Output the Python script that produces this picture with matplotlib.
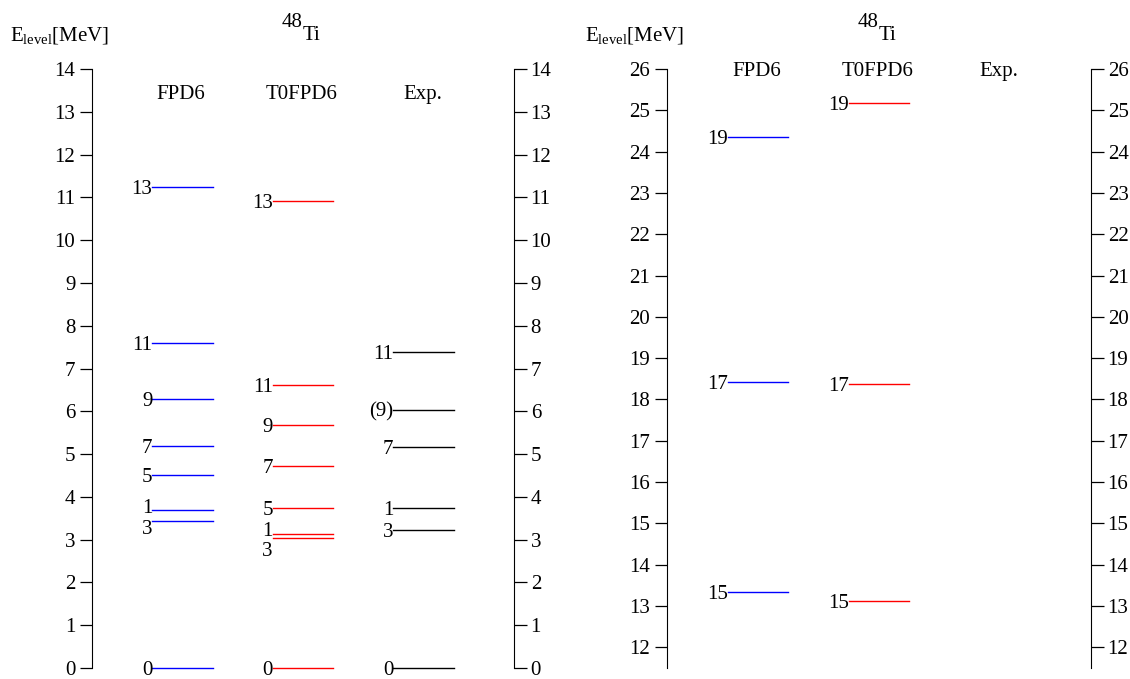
import matplotlib.pyplot as plt

plt.rcParams["font.family"] = "Liberation Serif"
plt.rcParams["mathtext.fontset"] = "custom"
plt.rcParams["mathtext.rm"] = "Liberation Serif"
plt.rcParams["mathtext.it"] = "Liberation Serif:italic"
plt.rcParams["font.size"] = 15

# Level data (energies in MeV, labels are the spin values shown)
columns = ["FPD6", "T0FPD6", "Exp."]

fpd6_low_spin = ["0", "3", "1", "5", "7", "9", "11", "13"]
fpd6_low_e = [0.0, 3.43, 3.70, 4.52, 5.20, 6.28, 7.59, 11.24]
t0_low_spin = ["0", "3", "1", "5", "7", "9", "11", "13"]
t0_low_e = [0.0, 3.03, 3.14, 3.74, 4.73, 5.69, 6.61, 10.92]
exp_low_spin = ["0", "3", "1", "7", "(9)", "11"]
exp_low_e = [0.0, 3.22, 3.74, 5.17, 6.04, 7.38]

fpd6_high_spin = ["15", "17", "19"]
fpd6_high_e = [13.34, 18.43, 24.36]
t0_high_spin = ["15", "17", "19"]
t0_high_e = [13.11, 18.37, 25.18]
exp_high_spin = []
exp_high_e = []

colors = {"FPD6": "blue", "T0FPD6": "red", "Exp.": "black"}
# vertical nudges (points) for labels that would overlap
label_shift = {("FPD6", "1"): 2.5, ("FPD6", "3"): -4.5,
               ("T0FPD6", "1"): 3.5, ("T0FPD6", "3"): -7.5}

fig = plt.figure(figsize=(11.3, 6.79), dpi=100)
ax_low = fig.add_axes([92 / 1130, 11 / 679, 422 / 1130, 599 / 679])
ax_high = fig.add_axes([667 / 1130, 11 / 679, 424 / 1130, 599 / 679])

panels = [
    (ax_low, (0, 14), range(0, 15), 0.962,
     [(fpd6_low_spin, fpd6_low_e), (t0_low_spin, t0_low_e), (exp_low_spin, exp_low_e)]),
    (ax_high, (11.5, 26), range(12, 27), 1.0,
     [(fpd6_high_spin, fpd6_high_e), (t0_high_spin, t0_high_e), (exp_high_spin, exp_high_e)]),
]

for ax, ylim, ticks, head_y, data in panels:
    ax.set_xlim(0, 7)
    ax.set_ylim(*ylim)
    ax.set_yticks(list(ticks))
    ax.set_xticks([])
    ax.spines["top"].set_visible(False)
    ax.spines["bottom"].set_visible(False)
    ax.tick_params(axis="y", direction="out", left=True, right=True,
                   labelleft=True, labelright=True, length=9, width=0.9, pad=3)
    for i, (name, (spins, energies)) in enumerate(zip(columns, data)):
        x0 = 1 + 2 * i
        ax.text(x0 + 0.48, head_y, name, transform=ax.get_xaxis_transform(),
                ha="center", va="center_baseline")
        for s, e in zip(spins, energies):
            ax.plot([x0, x0 + 1], [e, e], color=colors[name], lw=1.0, clip_on=False)
            dy = label_shift.get((name, s), 0) if ax is ax_low else 0
            ax.annotate(s, xy=(x0, e), xytext=(0, dy), textcoords="offset points",
                        ha="right", va="center_baseline")
    # nucleus label: 48 raised, Ti on the line
    ax.annotate("48", xy=(0.5, 1), xycoords="axes fraction", xytext=(0, 30),
                textcoords="offset points", ha="right", va="baseline")
    ax.annotate("Ti", xy=(0.5, 1), xycoords="axes fraction", xytext=(0, 21),
                textcoords="offset points", ha="left", va="baseline")
    bb = ax.get_position()
    fig.text(bb.x0 - 82 / 1130, 1 - 40 / 679, r"E$_{\mathrm{level}}$[MeV]",
             va="baseline", ha="left")

fig.savefig("out.png", dpi=100)
